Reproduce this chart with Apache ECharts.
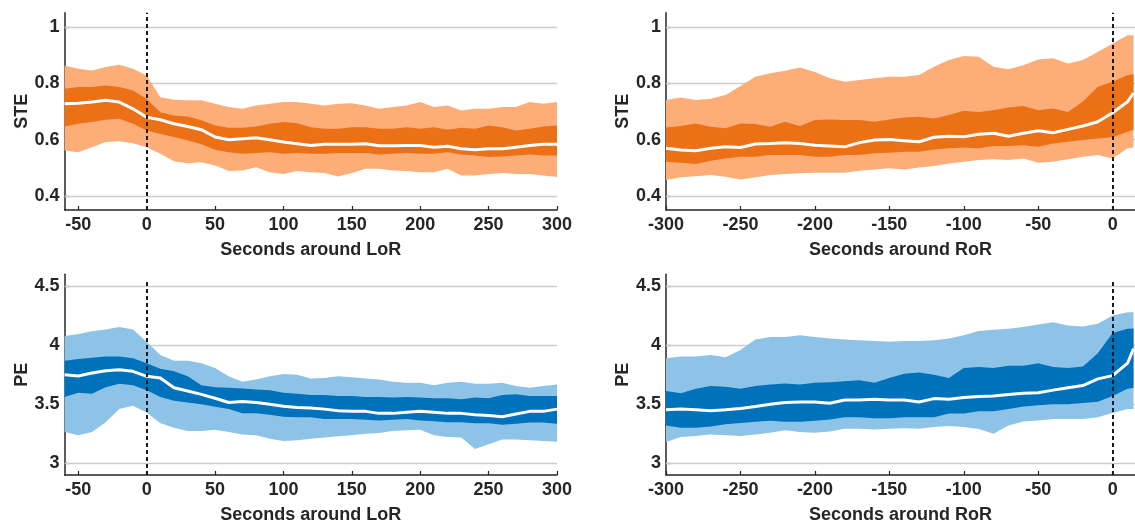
<!DOCTYPE html>
<html>
<head>
<meta charset="utf-8">
<script src="https://cdn.jsdelivr.net/npm/echarts@6/dist/echarts.min.js"></script>
<style>
  html, body { margin: 0; padding: 0; background: #fff; }
  #main { width: 1135px; height: 525px; }
</style>
</head>
<body>
<div id="main"></div>
<script>
// time grids (seconds)
var lorTime = [-60, -50, -40, -30, -20, -10, 0, 10, 20, 30, 40, 50, 60, 70, 80, 90, 100, 110, 120,
  130, 140, 150, 160, 170, 180, 190, 200, 210, 220, 230, 240, 250, 260, 270, 280, 290, 300];
var rorTime = [-300, -290, -280, -270, -260, -250, -240, -230, -220, -210, -200, -190, -180, -170,
  -160, -150, -140, -130, -120, -110, -100, -90, -80, -70, -60, -50, -40, -30, -20, -10, 0, 10, 14];

// STE around LoR
var steLorOuterHi = [0.863, 0.851, 0.845, 0.857, 0.865, 0.851, 0.827, 0.75, 0.741, 0.739, 0.739, 0.727, 0.715,
  0.709, 0.721, 0.727, 0.733, 0.733, 0.727, 0.721, 0.727, 0.729, 0.721, 0.709, 0.715, 0.721, 0.733, 0.715,
  0.721, 0.703, 0.709, 0.709, 0.715, 0.715, 0.733, 0.727, 0.733];
var steLorInnerHi = [0.78, 0.786, 0.786, 0.792, 0.786, 0.774, 0.744, 0.697, 0.685, 0.682, 0.668, 0.65, 0.642,
  0.642, 0.646, 0.656, 0.662, 0.658, 0.644, 0.638, 0.638, 0.644, 0.644, 0.638, 0.638, 0.644, 0.638, 0.644,
  0.635, 0.642, 0.638, 0.65, 0.644, 0.632, 0.638, 0.646, 0.65];
var steLorMedian = [0.727, 0.729, 0.733, 0.739, 0.733, 0.709, 0.679, 0.67, 0.656, 0.646, 0.635, 0.609, 0.599,
  0.603, 0.606, 0.599, 0.591, 0.585, 0.579, 0.583, 0.583, 0.583, 0.585, 0.578, 0.578, 0.579, 0.579, 0.573,
  0.576, 0.567, 0.564, 0.567, 0.567, 0.573, 0.579, 0.583, 0.583];
var steLorInnerLo = [0.646, 0.656, 0.662, 0.67, 0.674, 0.656, 0.632, 0.62, 0.609, 0.597, 0.583, 0.564, 0.555,
  0.55, 0.552, 0.555, 0.55, 0.552, 0.55, 0.55, 0.552, 0.552, 0.552, 0.547, 0.55, 0.552, 0.55, 0.55, 0.555,
  0.547, 0.543, 0.538, 0.54, 0.543, 0.547, 0.543, 0.543];
var steLorOuterLo = [0.561, 0.555, 0.573, 0.591, 0.594, 0.587, 0.573, 0.55, 0.523, 0.516, 0.519, 0.508, 0.488,
  0.49, 0.502, 0.484, 0.478, 0.488, 0.484, 0.481, 0.469, 0.481, 0.496, 0.496, 0.49, 0.488, 0.484, 0.484,
  0.496, 0.472, 0.472, 0.478, 0.481, 0.478, 0.478, 0.472, 0.467];

// STE around RoR
var steRorOuterHi = [0.74, 0.749, 0.74, 0.745, 0.758, 0.79, 0.823, 0.835, 0.844, 0.856, 0.84, 0.817, 0.805,
  0.811, 0.817, 0.823, 0.823, 0.829, 0.858, 0.882, 0.896, 0.894, 0.858, 0.849, 0.864, 0.884, 0.888, 0.87,
  0.882, 0.911, 0.941, 0.97, 0.97];
var steRorInnerHi = [0.643, 0.648, 0.657, 0.645, 0.64, 0.657, 0.655, 0.645, 0.663, 0.648, 0.669, 0.671, 0.669,
  0.669, 0.663, 0.671, 0.678, 0.681, 0.675, 0.687, 0.702, 0.698, 0.704, 0.714, 0.719, 0.704, 0.71, 0.698,
  0.735, 0.787, 0.805, 0.829, 0.832];
var steRorMedian = [0.569, 0.563, 0.56, 0.569, 0.574, 0.572, 0.584, 0.586, 0.589, 0.586, 0.58, 0.577, 0.574,
  0.589, 0.598, 0.6, 0.596, 0.592, 0.608, 0.612, 0.61, 0.619, 0.622, 0.612, 0.622, 0.631, 0.624, 0.636,
  0.648, 0.663, 0.695, 0.734, 0.765];
var steRorInnerLo = [0.521, 0.518, 0.513, 0.525, 0.533, 0.539, 0.539, 0.545, 0.545, 0.545, 0.539, 0.539, 0.545,
  0.545, 0.551, 0.553, 0.557, 0.557, 0.565, 0.569, 0.572, 0.569, 0.577, 0.577, 0.58, 0.574, 0.586, 0.592,
  0.598, 0.604, 0.608, 0.628, 0.635];
var steRorOuterLo = [0.456, 0.466, 0.47, 0.474, 0.468, 0.458, 0.466, 0.474, 0.478, 0.48, 0.482, 0.482, 0.482,
  0.489, 0.494, 0.498, 0.494, 0.501, 0.506, 0.515, 0.521, 0.527, 0.53, 0.527, 0.533, 0.518, 0.521, 0.53,
  0.539, 0.545, 0.533, 0.569, 0.572];

// PE around LoR
var peLorOuterHi = [4.078, 4.094, 4.117, 4.133, 4.153, 4.133, 4.028, 3.917, 3.867, 3.867, 3.847, 3.806, 3.736,
  3.689, 3.708, 3.736, 3.756, 3.75, 3.717, 3.722, 3.736, 3.728, 3.717, 3.708, 3.689, 3.681, 3.681, 3.661,
  3.681, 3.689, 3.672, 3.672, 3.681, 3.653, 3.639, 3.653, 3.667];
var peLorInnerHi = [3.867, 3.883, 3.894, 3.903, 3.903, 3.889, 3.847, 3.8, 3.778, 3.736, 3.661, 3.644, 3.639,
  3.633, 3.625, 3.617, 3.597, 3.589, 3.578, 3.578, 3.569, 3.569, 3.561, 3.561, 3.556, 3.561, 3.556, 3.55,
  3.55, 3.542, 3.556, 3.55, 3.578, 3.583, 3.569, 3.569, 3.569];
var peLorMedian = [3.75, 3.739, 3.764, 3.783, 3.792, 3.778, 3.736, 3.722, 3.639, 3.611, 3.583, 3.55, 3.514,
  3.522, 3.514, 3.5, 3.483, 3.472, 3.467, 3.458, 3.444, 3.439, 3.439, 3.422, 3.422, 3.431, 3.439, 3.431,
  3.422, 3.422, 3.411, 3.403, 3.394, 3.417, 3.439, 3.439, 3.458];
var peLorInnerLo = [3.561, 3.597, 3.589, 3.644, 3.672, 3.661, 3.617, 3.561, 3.528, 3.514, 3.5, 3.478, 3.458,
  3.422, 3.422, 3.411, 3.394, 3.389, 3.389, 3.375, 3.375, 3.375, 3.367, 3.361, 3.367, 3.375, 3.361, 3.356,
  3.347, 3.347, 3.339, 3.339, 3.325, 3.335, 3.345, 3.345, 3.335];
var peLorOuterLo = [3.264, 3.236, 3.264, 3.347, 3.458, 3.486, 3.43, 3.339, 3.3, 3.272, 3.272, 3.283, 3.264,
  3.244, 3.236, 3.208, 3.189, 3.194, 3.208, 3.217, 3.228, 3.236, 3.25, 3.256, 3.272, 3.278, 3.283, 3.236,
  3.222, 3.217, 3.12, 3.161, 3.2, 3.2, 3.194, 3.189, 3.181];

// PE around RoR
var peRorOuterHi = [3.889, 3.903, 3.903, 3.917, 3.897, 3.958, 4.047, 4.069, 4.069, 4.083, 4.069, 4.056, 4.047,
  4.042, 4.036, 4.028, 4.036, 4.036, 4.042, 4.056, 4.083, 4.119, 4.131, 4.139, 4.153, 4.175, 4.194, 4.167,
  4.158, 4.181, 4.25, 4.278, 4.278];
var peRorInnerHi = [3.611, 3.592, 3.631, 3.653, 3.647, 3.631, 3.653, 3.667, 3.675, 3.667, 3.681, 3.686, 3.694,
  3.703, 3.681, 3.722, 3.758, 3.769, 3.75, 3.722, 3.806, 3.814, 3.806, 3.825, 3.825, 3.847, 3.814, 3.806,
  3.819, 3.931, 4.103, 4.139, 4.14];
var peRorMedian = [3.453, 3.458, 3.453, 3.444, 3.453, 3.464, 3.481, 3.5, 3.514, 3.519, 3.519, 3.508, 3.536,
  3.536, 3.542, 3.536, 3.536, 3.519, 3.547, 3.542, 3.556, 3.564, 3.569, 3.581, 3.592, 3.597, 3.619, 3.639,
  3.658, 3.714, 3.742, 3.847, 3.97];
var peRorInnerLo = [3.32, 3.3, 3.3, 3.31, 3.33, 3.34, 3.35, 3.36, 3.35, 3.35, 3.36, 3.37, 3.39, 3.39, 3.38,
  3.38, 3.39, 3.39, 3.39, 3.42, 3.42, 3.44, 3.44, 3.46, 3.48, 3.49, 3.5, 3.5, 3.51, 3.52, 3.57, 3.63, 3.64];
var peRorOuterLo = [3.18, 3.222, 3.231, 3.242, 3.236, 3.231, 3.242, 3.258, 3.278, 3.264, 3.258, 3.269, 3.292,
  3.292, 3.286, 3.292, 3.297, 3.292, 3.306, 3.314, 3.306, 3.29, 3.25, 3.32, 3.353, 3.361, 3.375, 3.375,
  3.375, 3.389, 3.425, 3.458, 3.46];

// tick labels
var lorTicks = [-50, 0, 50, 100, 150, 200, 250, 300];
var rorTicks = [-300, -250, -200, -150, -100, -50, 0];
var steTicks = [0.4, 0.6, 0.8, 1];
var peTicks = [3, 3.5, 4, 4.5];

var FONT = 'Liberation Sans, Arial, sans-serif';
var INK = '#262626';
var ORANGE_LIGHT = '#fdae78';
var ORANGE_DARK = '#ec7116';
var BLUE_LIGHT = '#8ec3e8';
var BLUE_DARK = '#0071bb';

var chart = echarts.init(document.getElementById('main'));

function textStyle() {
  return { fontFamily: FONT, fontWeight: 'bold', fontSize: 18, color: INK };
}

function xAxis(grid, min, max, ticks, name) {
  return {
    type: 'value', gridIndex: grid, min: min, max: max,
    name: name, nameLocation: 'middle', nameGap: 31,
    nameTextStyle: textStyle(),
    axisLine: { show: true, onZero: false, lineStyle: { color: INK, width: 1.5 } },
    axisTick: { show: true, inside: true, length: 4, customValues: ticks, lineStyle: { color: INK, width: 1.2 } },
    axisLabel: Object.assign({ customValues: ticks, margin: 6 }, textStyle()),
    splitLine: { show: false }
  };
}

function yAxis(grid, min, max, ticks, name) {
  return {
    type: 'value', gridIndex: grid, min: min, max: max,
    name: name, nameLocation: 'middle', nameGap: 34,
    nameTextStyle: textStyle(),
    axisLine: { show: true, onZero: false, lineStyle: { color: INK, width: 1.5 } },
    axisTick: { show: true, inside: true, length: 5, customValues: ticks, lineStyle: { color: INK, width: 1.2 } },
    axisLabel: Object.assign({ customValues: ticks, margin: 5 }, textStyle()),
    splitLine: { show: false }
  };
}

function band(grid, xs, lo, hi, color) {
  return {
    type: 'custom', xAxisIndex: grid, yAxisIndex: grid, silent: true, z: 2,
    data: [[xs[0], lo[0]]],
    renderItem: function (params, api) {
      var pts = [];
      for (var i = 0; i < xs.length; i++) pts.push(api.coord([xs[i], hi[i]]));
      for (var j = xs.length - 1; j >= 0; j--) pts.push(api.coord([xs[j], lo[j]]));
      return { type: 'polygon', shape: { points: pts }, style: { fill: color } };
    }
  };
}

function median(grid, xs, ys, ticks) {
  return {
    type: 'line', xAxisIndex: grid, yAxisIndex: grid, z: 3,
    showSymbol: false, silent: true,
    lineStyle: { color: '#ffffff', width: 3 },
    data: xs.map(function (x, i) { return [x, ys[i]]; }),
    markLine: {
      silent: true, symbol: 'none', z: 1, animation: false,
      label: { show: false },
      lineStyle: { color: '#cdcdcd', type: 'solid', width: 1.3 },
      data: ticks.map(function (v) { return { yAxis: v }; })
    }
  };
}

function zeroLine(grid, yLo, yHi) {
  return {
    type: 'line', xAxisIndex: grid, yAxisIndex: grid, z: 4, data: [],
    markLine: {
      silent: true, symbol: 'none', z: 6, animation: false,
      label: { show: false },
      lineStyle: { color: '#1a1a1a', type: [4, 3], width: 2 },
      data: [[{ coord: [0, yLo] }, { coord: [0, yHi] }]]
    }
  };
}

var option = {
  animation: false,
  backgroundColor: '#ffffff',
  grid: [
    { left: 64.6, top: 12.7, width: 492.4, height: 197.3 },
    { left: 666, top: 12.7, width: 472, height: 197.3 },
    { left: 64.6, top: 274.3, width: 492.4, height: 204 },
    { left: 666, top: 274.3, width: 472, height: 204 }
  ],
  xAxis: [
    xAxis(0, -60, 300, lorTicks, 'Seconds around LoR'),
    xAxis(1, -300, 15, rorTicks, 'Seconds around RoR'),
    xAxis(2, -60, 300, lorTicks, 'Seconds around LoR'),
    xAxis(3, -300, 15, rorTicks, 'Seconds around RoR')
  ],
  yAxis: [
    yAxis(0, 0.35, 1.05, steTicks, 'STE'),
    yAxis(1, 0.35, 1.05, steTicks, 'STE'),
    yAxis(2, 2.9, 4.6, peTicks, 'PE'),
    yAxis(3, 2.9, 4.6, peTicks, 'PE')
  ],
  series: [
    band(0, lorTime, steLorOuterLo, steLorOuterHi, ORANGE_LIGHT),
    band(0, lorTime, steLorInnerLo, steLorInnerHi, ORANGE_DARK),
    median(0, lorTime, steLorMedian, steTicks),
    zeroLine(0, 0.35, 1.05),

    band(1, rorTime, steRorOuterLo, steRorOuterHi, ORANGE_LIGHT),
    band(1, rorTime, steRorInnerLo, steRorInnerHi, ORANGE_DARK),
    median(1, rorTime, steRorMedian, steTicks),
    zeroLine(1, 0.35, 1.05),

    band(2, lorTime, peLorOuterLo, peLorOuterHi, BLUE_LIGHT),
    band(2, lorTime, peLorInnerLo, peLorInnerHi, BLUE_DARK),
    median(2, lorTime, peLorMedian, peTicks),
    zeroLine(2, 2.9, 4.55),

    band(3, rorTime, peRorOuterLo, peRorOuterHi, BLUE_LIGHT),
    band(3, rorTime, peRorInnerLo, peRorInnerHi, BLUE_DARK),
    median(3, rorTime, peRorMedian, peTicks),
    zeroLine(3, 2.9, 4.55)
  ]
};

chart.setOption(option);
</script>
</body>
</html>
